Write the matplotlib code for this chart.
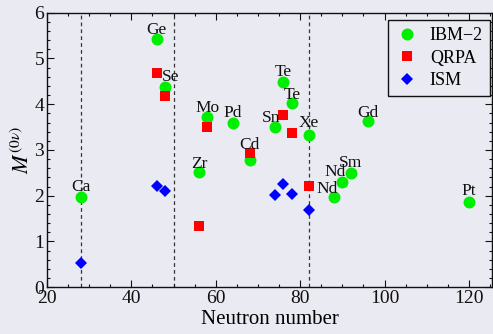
import numpy as np
import matplotlib
matplotlib.use('Agg')
import matplotlib.pyplot as plt
from matplotlib.ticker import MultipleLocator

# IBM-2 values
ibm_n = [28, 46, 48, 56, 58, 64, 68, 74, 76, 78, 82, 88, 90, 92, 96, 120]
ibm_m = [1.97, 5.42, 4.38, 2.51, 3.71, 3.60, 2.78, 3.50, 4.49, 4.02, 3.33, 1.97, 2.29, 2.49, 3.63, 1.86]

# QRPA values
qrpa_n = [46, 48, 56, 58, 68, 76, 78, 82]
qrpa_m = [4.68, 4.18, 1.33, 3.51, 2.93, 3.76, 3.37, 2.21]

# ISM values
ism_n = [28, 46, 48, 74, 76, 78, 82]
ism_m = [0.52, 2.21, 2.10, 2.02, 2.25, 2.04, 1.69]

# element labels
lab_text = ['Ca', 'Ge', 'Se', 'Zr', 'Mo', 'Pd', 'Cd', 'Sn', 'Te', 'Te', 'Xe',
            'Nd', 'Nd', 'Sm', 'Gd', 'Pt']
lab_x = [28, 46, 49.2, 56, 58, 64, 68, 73, 76, 78.2, 82, 86.4, 88.4, 92, 96, 120]
lab_y = [2.2, 5.62, 4.6, 2.69, 3.91, 3.81, 3.11, 3.70, 4.71, 4.20, 3.60,
         2.14, 2.52, 2.72, 3.81, 2.10]

shells = [28, 50, 82]

plt.rcParams['font.family'] = ['Liberation Serif', 'DejaVu Serif']
plt.rcParams['mathtext.fontset'] = 'stix'
bg = '#eaeaf2'

fig = plt.figure(figsize=(4.93, 3.34), dpi=100, facecolor=bg)
ax = fig.add_axes([0.0953, 0.140, 0.903, 0.822])
ax.set_facecolor(bg)

for s in shells:
    ax.axvline(s, color='#333333', ls=(0, (3, 2.5)), lw=0.9, zorder=1)

ax.plot(ibm_n, ibm_m, 'o', color='#00ee00', ms=8.6, mew=0, label='IBM\u22122', zorder=3)
ax.plot(qrpa_n, qrpa_m, 's', color='#ff0000', ms=7.2, mew=0, label='QRPA', zorder=4)
ax.plot(ism_n, ism_m, 'D', color='#0000ff', ms=6.0, mew=0, label='ISM', zorder=4)

for t, x, y in zip(lab_text, lab_x, lab_y):
    ax.text(x, y, t, fontsize=12.5, ha='center', va='center', color='#111111', zorder=5)

ax.set_xlim(20, 125.5)
ax.set_ylim(0, 6)
ax.xaxis.set_major_locator(MultipleLocator(20))
ax.xaxis.set_minor_locator(MultipleLocator(5))
ax.yaxis.set_major_locator(MultipleLocator(1))
ax.yaxis.set_minor_locator(MultipleLocator(0.2))
ax.tick_params(which='both', direction='in', top=True, right=True, labelsize=14,
               colors='#111111')
ax.tick_params(axis='x', pad=2)
ax.tick_params(axis='y', pad=2)
ax.tick_params(which='major', length=5, width=0.8)
ax.tick_params(which='minor', length=2.5, width=0.8)
for sp in ax.spines.values():
    sp.set_linewidth(1.0)
    sp.set_color('#111111')

ax.set_xlabel('Neutron number', fontsize=15, labelpad=2)
ax.set_ylabel(r'$M^{(0\nu)}$', fontsize=16, labelpad=0)

leg = ax.legend(loc='upper right', bbox_to_anchor=(0.9955, 0.973), fontsize=13,
                frameon=True, fancybox=False, framealpha=1, edgecolor='#111111',
                facecolor=bg, borderpad=0.4, labelspacing=0.3, handletextpad=0.6,
                handlelength=1.3, borderaxespad=0)
leg.get_frame().set_linewidth(1.0)

fig.savefig('out.png', dpi=100, facecolor=bg)
